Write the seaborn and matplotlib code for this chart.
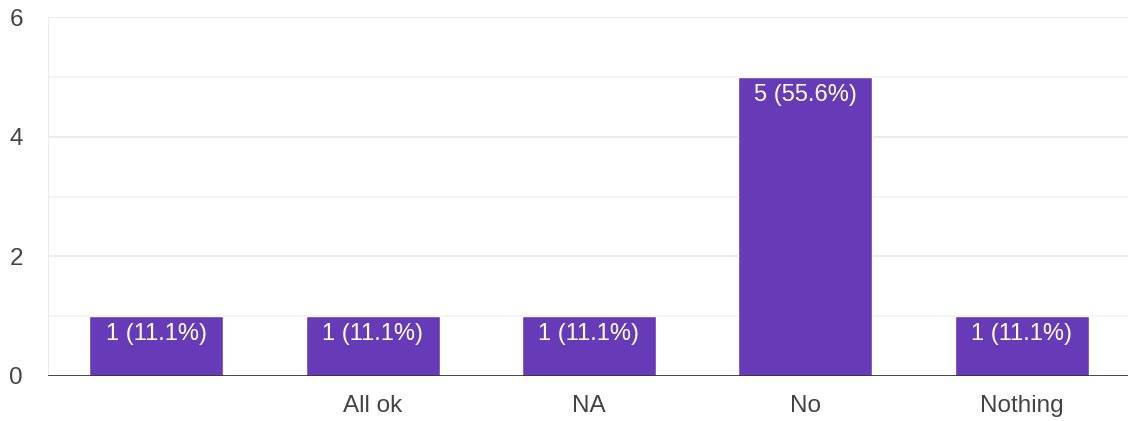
import pandas as pd
import matplotlib.pyplot as plt
import seaborn as sns

categories = ['', 'All ok', 'NA', 'No', 'Nothing']
counts = [1, 1, 1, 5, 1]
percents = [11.1, 11.1, 11.1, 55.6, 11.1]

df = pd.DataFrame({'answer': categories, 'count': counts})

sns.set_style('white')
plt.rcParams['font.family'] = ['Liberation Sans', 'DejaVu Sans']

fig = plt.figure(figsize=(11.28, 4.21), dpi=100)
ax = fig.add_axes([48 / 1128, 45 / 421, 1082 / 1128, 359 / 421])

sns.barplot(data=df, x='answer', y='count', color='#673ab7', saturation=1,
            width=0.62, ax=ax, zorder=3)

# 网格线：主线 0,2,4,6，次线 1,3,5 更浅
for y in [2, 4, 6]:
    ax.axhline(y, color='#ebebeb', linewidth=1.5, zorder=1)
for y in [1, 3, 5]:
    ax.axhline(y, color='#f4f4f4', linewidth=1.5, zorder=1)
ax.axhline(0, color='#333333', linewidth=2, zorder=4)
ax.axvline(-0.5, color='#ebebeb', linewidth=1.5, zorder=1)

for i, (c, p) in enumerate(zip(counts, percents)):
    ax.annotate(f'{c} ({p}%)', (i, c), xytext=(0, -5), textcoords='offset points',
                ha='center', va='top', color='white', fontsize=17, zorder=5)

ax.set_ylim(0, 6)
ax.set_xlim(-0.5, 4.5)
ax.set_yticks([0, 2, 4, 6])
ax.set_xlabel('')
ax.set_ylabel('')
ax.tick_params(axis='both', length=0, labelsize=17.5, colors='#444444')
ax.tick_params(axis='y', pad=18)
ax.tick_params(axis='x', pad=14)
for s in ax.spines.values():
    s.set_visible(False)

plt.savefig('out.png', dpi=100)
